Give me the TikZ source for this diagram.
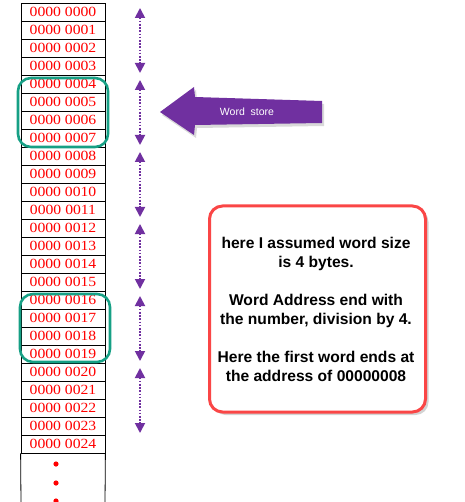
\documentclass[tikz,border=0pt]{standalone}
\usepackage{fontspec}
\setmainfont{Liberation Serif}
\newfontfamily\arialf{Liberation Sans}
\usetikzlibrary{arrows.meta,shadows}
\definecolor{wpurple}{RGB}{112,48,160}
\definecolor{wteal}{RGB}{22,160,133}
\definecolor{wred}{RGB}{250,70,70}
\definecolor{cellred}{RGB}{255,0,0}
\begin{document}
\begin{tikzpicture}[x=1pt,y=-1pt,
  cell/.style={draw=black, line width=0.8pt, minimum width=84pt, minimum height=18pt, inner sep=0pt,
    text=cellred, font=\fontsize{14}{14}\selectfont},
  tealbox/.style={draw=wteal, line width=2.6pt, rounded corners=13pt},
  darr/.style={draw=wpurple, line width=1.8pt, dash pattern=on 1.6pt off 1.6pt, {Triangle[width=10pt,length=10pt]}-{Triangle[width=10pt,length=10pt]}},
  redbox/.style={draw=wred, line width=3pt, rounded corners=13pt, fill=white,
    drop shadow={shadow xshift=3pt, shadow yshift=-3pt, opacity=0.35}, minimum width=216pt, minimum height=206pt},
  boxtext/.style={align=center, font=\arialf\bfseries\fontsize{15.6}{19}\selectfont},
  dotred/.style={fill=cellred}]
\useasboundingbox (0,0) rectangle (464,502);
\foreach \i in {0,...,24}{
  \node[cell] (r\i) at (63,{12+18*\i}) {\scalebox{1.12}[1]{0000 00\ifnum\i<10 0\fi\i}};
}
\coordinate (lb) at (21,503);
\coordinate (rb) at (105,503);
\draw[line width=0.8pt] (r24.south west) -- (lb);
\draw[line width=0.8pt] (r24.south east) -- (rb);
\fill[dotred] (56,464) circle (2.6);
\fill[dotred] (56,483) circle (2.6);
\fill[dotred] (56,501) circle (2.6);
% teal highlight boxes
\draw[tealbox] (18,78) rectangle (108,147);
\draw[tealbox] (20,294) rectangle (110,362);
% dotted double arrows
\foreach \k in {0,...,5}{
  \coordinate (at\k) at (140,{3+72*\k+5});
  \coordinate (ab\k) at (140,{3+72*\k+70});
  \draw[darr] (at\k) -- (ab\k);
}
% big purple arrow
\fill[wpurple, drop shadow={shadow xshift=2pt, shadow yshift=-3pt, opacity=0.3}]
  (160,112) -- (194,87) -- (195,97) -- (322,101) -- (322,123) -- (195,125) -- (194,135) -- cycle;
\node[text=white, font=\arialf\fontsize{10.5}{12}\selectfont] (ws) at (247,112) {Word\ \ store};
% red info box
\node[redbox] (info) at (317.5,309) {};
\node[boxtext] (infotext) at (316,309) {here I assumed word size\\is 4 bytes.\\[19pt]Word Address end with\\the number, division by 4.\\[19pt]Here the first word ends at\\the address of 00000008};
\end{tikzpicture}
\end{document}
